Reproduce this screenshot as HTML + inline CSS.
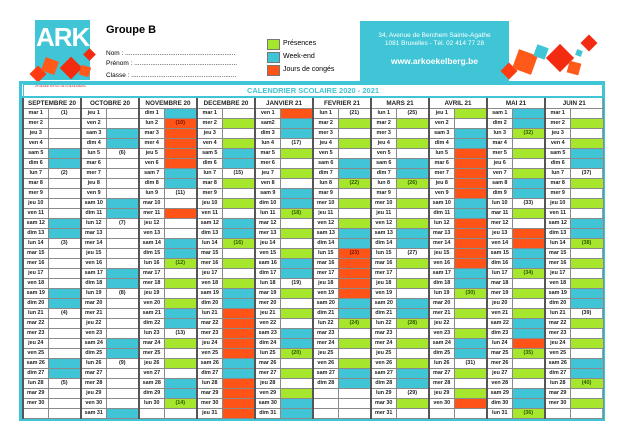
<!DOCTYPE html>
<html><head><meta charset="utf-8"><style>
body{margin:0;width:620px;height:438px;background:#fff;position:relative;overflow:hidden;font-family:"Liberation Sans",sans-serif}
.abs{position:absolute}
.frame{position:absolute;left:19px;top:81px;width:580px;height:334px;border:3px solid #3fc5d6}
table{position:absolute;left:22px;top:84px;width:580px;border-collapse:collapse;table-layout:fixed;font:bold 5.4px "Liberation Sans",sans-serif;color:#222}
td{border:1px solid #8a8a8a;padding:0;text-align:center;white-space:nowrap;overflow:hidden;height:9px;line-height:9px}
td:nth-child(odd){border-left:2px solid #555}
tr.t td{height:11px;color:#3fc5d6;font-size:7.5px;border:1px solid #3fc5d6;border-bottom:2px solid #3fc5d6}
tr.h td{height:10px;font-size:6.3px;font-weight:bold;border-left:2px solid #555}
.w{background:#3fc5d6}.o{background:#ff5317;color:#7a1400}.g{background:#a6e62c;color:#2e5a00}
.leg{position:absolute;left:267px;width:11px;height:9px;border:1px solid #777}
.lt{position:absolute;left:283px;font-size:7px}
</style></head><body>
<div class="abs" style="left:35px;top:20px;width:55px;height:60px;background:#3fc5d6"></div>
<div class="abs" style="left:36px;top:22px;font:bold 26px 'Liberation Sans';color:#fff;letter-spacing:-1px">ARK</div>
<div class="abs" style="left:32px;top:68px;width:12px;height:12px;background:#ff3b12;transform:rotate(45deg)"></div>
<div class="abs" style="left:43px;top:59px;width:14px;height:14px;background:#ff5a1a;transform:rotate(20deg)"></div>
<div class="abs" style="left:63px;top:60px;width:16px;height:16px;background:#f32b10;transform:rotate(45deg)"></div>
<div class="abs" style="left:80px;top:66px;width:10px;height:10px;background:#ff5a1a;transform:rotate(15deg)"></div>
<div class="abs" style="left:85px;top:50px;width:9px;height:9px;background:#f32b10;transform:rotate(45deg)"></div>
<div class="abs" style="left:35px;top:84px;font-size:3px;color:#c33">ATHÉNÉE ROYAL DE KOEKELBERG</div>
<div class="abs" style="left:106px;top:24px;font:bold 11px 'Liberation Sans'">Groupe B</div>
<div class="abs" style="left:106px;top:49px;font-size:6.5px;line-height:10px">Nom : .............................................................<br>Prénom : .........................................................<br><span style="line-height:14px">Classe : ..........................................................</span></div>
<div class="leg" style="top:39px;background:#a6e62c"></div><div class="lt" style="top:40px">Présences</div>
<div class="leg" style="top:52px;background:#3fc5d6"></div><div class="lt" style="top:53px">Week-end</div>
<div class="leg" style="top:65px;background:#ff5317"></div><div class="lt" style="top:66px">Jours de congés</div>
<div class="abs" style="left:360px;top:21px;width:149px;height:63px;background:#3fc5d6;color:#fff;text-align:center;font-size:6.5px;line-height:8px"><div style="margin-top:11px">34, Avenue de Berchem Sainte-Agathe<br>1081 Bruxelles - Tél. 02 414 77 28</div><div style="font:bold 8.5px 'Liberation Sans';margin-top:8px">www.arkoekelberg.be</div></div>
<div class="abs" style="left:503px;top:65px;width:12px;height:12px;background:#ff3b12;transform:rotate(45deg)"></div>
<div class="abs" style="left:515px;top:52px;width:20px;height:20px;background:#ff5a1a;transform:rotate(20deg)"></div>
<div class="abs" style="left:535px;top:46px;width:12px;height:12px;background:#3fc5d6;transform:rotate(20deg)"></div>
<div class="abs" style="left:550px;top:48px;width:20px;height:20px;background:#f32b10;transform:rotate(45deg)"></div>
<div class="abs" style="left:568px;top:62px;width:12px;height:12px;background:#ff5a1a;transform:rotate(15deg)"></div>
<div class="abs" style="left:576px;top:50px;width:6px;height:6px;background:#3fc5d6;transform:rotate(20deg)"></div>
<div class="abs" style="left:583px;top:37px;width:12px;height:12px;background:#f32b10;transform:rotate(45deg)"></div>
<div class="frame"></div>
<table>
<colgroup><col style="width:25px"><col style="width:33px"><col style="width:25px"><col style="width:33px"><col style="width:25px"><col style="width:33px"><col style="width:25px"><col style="width:33px"><col style="width:25px"><col style="width:33px"><col style="width:25px"><col style="width:33px"><col style="width:25px"><col style="width:33px"><col style="width:25px"><col style="width:33px"><col style="width:25px"><col style="width:33px"><col style="width:25px"><col style="width:33px"></colgroup>
<tr class="t"><td colspan="20">CALENDRIER SCOLAIRE 2020 - 2021</td></tr>
<tr class="h"><td colspan="2">SEPTEMBRE 20</td><td colspan="2">OCTOBRE 20</td><td colspan="2">NOVEMBRE 20</td><td colspan="2">DECEMBRE 20</td><td colspan="2">JANVIER 21</td><td colspan="2">FEVRIER 21</td><td colspan="2">MARS 21</td><td colspan="2">AVRIL 21</td><td colspan="2">MAI 21</td><td colspan="2">JUIN 21</td></tr>
<tr><td>mar 1</td><td>(1)</td><td>jeu 1</td><td></td><td>dim 1</td><td class="w"></td><td>mar 1</td><td></td><td>ven 1</td><td class="o"></td><td>lun 1</td><td>(21)</td><td>lun 1</td><td>(25)</td><td>jeu 1</td><td class="g"></td><td>sam 1</td><td class="w"></td><td>mar 1</td><td></td></tr>
<tr><td>mer 2</td><td></td><td>ven 2</td><td></td><td>lun 2</td><td class="o">(10)</td><td>mer 2</td><td class="g"></td><td>sam2</td><td class="w"></td><td>mar 2</td><td class="g"></td><td>mar 2</td><td class="g"></td><td>ven 2</td><td></td><td>dim 2</td><td class="w"></td><td>mer 2</td><td class="g"></td></tr>
<tr><td>jeu 3</td><td></td><td>sam 3</td><td class="w"></td><td>mar 3</td><td class="o"></td><td>jeu 3</td><td></td><td>dim 3</td><td class="w"></td><td>mer 3</td><td></td><td>mer 3</td><td></td><td>sam 3</td><td class="w"></td><td>lun 3</td><td class="g">(32)</td><td>jeu 3</td><td></td></tr>
<tr><td>ven 4</td><td></td><td>dim 4</td><td class="w"></td><td>mer 4</td><td class="o"></td><td>ven 4</td><td class="g"></td><td>lun 4</td><td>(17)</td><td>jeu 4</td><td class="g"></td><td>jeu 4</td><td class="g"></td><td>dim 4</td><td class="w"></td><td>mar 4</td><td></td><td>ven 4</td><td class="g"></td></tr>
<tr><td>sam 5</td><td class="w"></td><td>lun 5</td><td>(6)</td><td>jeu 5</td><td class="o"></td><td>sam 5</td><td class="w"></td><td>mar 5</td><td class="g"></td><td>ven 5</td><td></td><td>ven 5</td><td></td><td>lun 5</td><td class="o"></td><td>mer 5</td><td class="g"></td><td>sam 5</td><td class="w"></td></tr>
<tr><td>dim 6</td><td class="w"></td><td>mar 6</td><td></td><td>ven 6</td><td class="o"></td><td>dim 6</td><td class="w"></td><td>mer 6</td><td></td><td>sam 6</td><td class="w"></td><td>sam 6</td><td class="w"></td><td>mar 6</td><td class="o"></td><td>jeu 6</td><td></td><td>dim 6</td><td class="w"></td></tr>
<tr><td>lun 7</td><td>(2)</td><td>mer 7</td><td></td><td>sam 7</td><td class="w"></td><td>lun 7</td><td>(15)</td><td>jeu 7</td><td class="g"></td><td>dim 7</td><td class="w"></td><td>dim 7</td><td class="w"></td><td>mer 7</td><td class="o"></td><td>ven 7</td><td class="g"></td><td>lun 7</td><td>(37)</td></tr>
<tr><td>mar 8</td><td></td><td>jeu 8</td><td></td><td>dim 8</td><td class="w"></td><td>mar 8</td><td class="g"></td><td>ven 8</td><td></td><td>lun 8</td><td class="g">(22)</td><td>lun 8</td><td class="g">(26)</td><td>jeu 8</td><td class="o"></td><td>sam 8</td><td class="w"></td><td>mar 8</td><td class="g"></td></tr>
<tr><td>mer 9</td><td></td><td>ven 9</td><td></td><td>lun 9</td><td>(11)</td><td>mer 9</td><td></td><td>sam 9</td><td class="w"></td><td>mar 9</td><td></td><td>mar 9</td><td></td><td>ven 9</td><td class="o"></td><td>dim 9</td><td class="w"></td><td>mer 9</td><td></td></tr>
<tr><td>jeu 10</td><td></td><td>sam 10</td><td class="w"></td><td>mar 10</td><td></td><td>jeu 10</td><td class="g"></td><td>dim 10</td><td class="w"></td><td>mer 10</td><td class="g"></td><td>mer 10</td><td class="g"></td><td>sam 10</td><td class="w"></td><td>lun 10</td><td>(33)</td><td>jeu 10</td><td class="g"></td></tr>
<tr><td>ven 11</td><td></td><td>dim 11</td><td class="w"></td><td>mer 11</td><td class="o"></td><td>ven 11</td><td></td><td>lun 11</td><td class="g">(18)</td><td>jeu 11</td><td></td><td>jeu 11</td><td></td><td>dim 11</td><td class="w"></td><td>mar 11</td><td class="g"></td><td>ven 11</td><td></td></tr>
<tr><td>sam 12</td><td class="w"></td><td>lun 12</td><td>(7)</td><td>jeu 12</td><td></td><td>sam 12</td><td class="w"></td><td>mar 12</td><td></td><td>ven 12</td><td class="g"></td><td>ven 12</td><td class="g"></td><td>lun 12</td><td class="o"></td><td>mer 12</td><td></td><td>sam 12</td><td class="w"></td></tr>
<tr><td>dim 13</td><td class="w"></td><td>mar 13</td><td></td><td>ven 13</td><td></td><td>dim 13</td><td class="w"></td><td>mer 13</td><td class="g"></td><td>sam 13</td><td class="w"></td><td>sam 13</td><td class="w"></td><td>mar 13</td><td class="o"></td><td>jeu 13</td><td class="o"></td><td>dim 13</td><td class="w"></td></tr>
<tr><td>lun 14</td><td>(3)</td><td>mer 14</td><td></td><td>sam 14</td><td class="w"></td><td>lun 14</td><td class="g">(16)</td><td>jeu 14</td><td></td><td>dim 14</td><td class="w"></td><td>dim 14</td><td class="w"></td><td>mer 14</td><td class="o"></td><td>ven 14</td><td class="o"></td><td>lun 14</td><td class="g">(38)</td></tr>
<tr><td>mar 15</td><td></td><td>jeu 15</td><td></td><td>dim 15</td><td class="w"></td><td>mar 15</td><td></td><td>ven 15</td><td class="g"></td><td>lun 15</td><td class="o">(23)</td><td>lun 15</td><td>(27)</td><td>jeu 15</td><td class="o"></td><td>sam 15</td><td class="w"></td><td>mar 15</td><td></td></tr>
<tr><td>mer 16</td><td></td><td>ven 16</td><td></td><td>lun 16</td><td class="g">(12)</td><td>mer 16</td><td class="g"></td><td>sam 16</td><td class="w"></td><td>mar 16</td><td class="o"></td><td>mar 16</td><td class="g"></td><td>ven 16</td><td class="o"></td><td>dim 16</td><td class="w"></td><td>mer 16</td><td class="g"></td></tr>
<tr><td>jeu 17</td><td></td><td>sam 17</td><td class="w"></td><td>mar 17</td><td></td><td>jeu 17</td><td></td><td>dim 17</td><td class="w"></td><td>mer 17</td><td class="o"></td><td>mer 17</td><td></td><td>sam 17</td><td class="w"></td><td>lun 17</td><td class="g">(34)</td><td>jeu 17</td><td></td></tr>
<tr><td>ven 18</td><td></td><td>dim 18</td><td class="w"></td><td>mer 18</td><td class="g"></td><td>ven 18</td><td class="g"></td><td>lun 18</td><td>(19)</td><td>jeu 18</td><td class="o"></td><td>jeu 18</td><td class="g"></td><td>dim 18</td><td class="w"></td><td>mar 18</td><td></td><td>ven 18</td><td class="g"></td></tr>
<tr><td>sam 19</td><td class="w"></td><td>lun 19</td><td>(8)</td><td>jeu 19</td><td></td><td>sam 19</td><td class="w"></td><td>mar 19</td><td class="g"></td><td>ven 19</td><td class="o"></td><td>ven 19</td><td></td><td>lun 19</td><td class="g">(30)</td><td>mer 19</td><td class="g"></td><td>sam 19</td><td class="w"></td></tr>
<tr><td>dim 20</td><td class="w"></td><td>mar 20</td><td></td><td>ven 20</td><td class="g"></td><td>dim 20</td><td class="w"></td><td>mer 20</td><td></td><td>sam 20</td><td class="w"></td><td>sam 20</td><td class="w"></td><td>mar 20</td><td></td><td>jeu 20</td><td></td><td>dim 20</td><td class="w"></td></tr>
<tr><td>lun 21</td><td>(4)</td><td>mer 21</td><td></td><td>sam 21</td><td class="w"></td><td>lun 21</td><td class="o"></td><td>jeu 21</td><td class="g"></td><td>dim 21</td><td class="w"></td><td>dim 21</td><td class="w"></td><td>mer 21</td><td class="g"></td><td>ven 21</td><td class="g"></td><td>lun 21</td><td>(39)</td></tr>
<tr><td>mar 22</td><td></td><td>jeu 22</td><td></td><td>dim 22</td><td class="w"></td><td>mar 22</td><td class="o"></td><td>ven 22</td><td></td><td>lun 22</td><td class="g">(24)</td><td>lun 22</td><td class="g">(28)</td><td>jeu 22</td><td></td><td>sam 22</td><td class="w"></td><td>mar 22</td><td class="g"></td></tr>
<tr><td>mer 23</td><td></td><td>ven 23</td><td></td><td>lun 23</td><td>(13)</td><td>mer 23</td><td class="o"></td><td>sam 23</td><td class="w"></td><td>mar 23</td><td></td><td>mar 23</td><td></td><td>ven 23</td><td class="g"></td><td>dim 23</td><td class="w"></td><td>mer 23</td><td></td></tr>
<tr><td>jeu 24</td><td></td><td>sam 24</td><td class="w"></td><td>mar 24</td><td class="g"></td><td>jeu 24</td><td class="o"></td><td>dim 24</td><td class="w"></td><td>mer 24</td><td class="g"></td><td>mer 24</td><td class="g"></td><td>sam 24</td><td class="w"></td><td>lun 24</td><td class="o"></td><td>jeu 24</td><td class="g"></td></tr>
<tr><td>ven 25</td><td></td><td>dim 25</td><td class="w"></td><td>mer 25</td><td></td><td>ven 25</td><td class="o"></td><td>lun 25</td><td class="g">(20)</td><td>jeu 25</td><td></td><td>jeu 25</td><td></td><td>dim 25</td><td class="w"></td><td>mar 25</td><td class="g">(35)</td><td>ven 25</td><td></td></tr>
<tr><td>sam 26</td><td class="w"></td><td>lun 26</td><td>(9)</td><td>jeu 26</td><td class="g"></td><td>sam 26</td><td class="w"></td><td>mar 26</td><td></td><td>ven 26</td><td class="g"></td><td>ven 26</td><td class="g"></td><td>lun 26</td><td>(31)</td><td>mer 26</td><td></td><td>sam 26</td><td class="w"></td></tr>
<tr><td>dim 27</td><td class="w"></td><td>mar 27</td><td></td><td>ven 27</td><td></td><td>dim 27</td><td class="w"></td><td>mer 27</td><td class="g"></td><td>sam 27</td><td class="w"></td><td>sam 27</td><td class="w"></td><td>mar 27</td><td class="g"></td><td>jeu 27</td><td class="g"></td><td>dim 27</td><td class="w"></td></tr>
<tr><td>lun 28</td><td>(5)</td><td>mer 28</td><td></td><td>sam 28</td><td class="w"></td><td>lun 28</td><td class="o"></td><td>jeu 28</td><td></td><td>dim 28</td><td class="w"></td><td>dim 28</td><td class="w"></td><td>mer 28</td><td></td><td>ven 28</td><td></td><td>lun 28</td><td class="g">(40)</td></tr>
<tr><td>mar 29</td><td></td><td>jeu 29</td><td></td><td>dim 29</td><td class="w"></td><td>mar 29</td><td class="o"></td><td>ven 29</td><td class="g"></td><td></td><td></td><td>lun 29</td><td>(29)</td><td>jeu 29</td><td class="g"></td><td>sam 29</td><td class="w"></td><td>mar 29</td><td></td></tr>
<tr><td>mer 30</td><td></td><td>ven 30</td><td></td><td>lun 30</td><td class="g">(14)</td><td>mer 30</td><td class="o"></td><td>sam 30</td><td class="w"></td><td></td><td></td><td>mar 30</td><td class="g"></td><td>ven 30</td><td class="o"></td><td>dim 30</td><td class="w"></td><td>mer 30</td><td class="g"></td></tr>
<tr><td></td><td></td><td>sam 31</td><td class="w"></td><td></td><td></td><td>jeu 31</td><td class="o"></td><td>dim 31</td><td class="w"></td><td></td><td></td><td>mer 31</td><td></td><td></td><td></td><td>lun 31</td><td class="g">(36)</td><td></td><td></td></tr>
</table>
</body></html>
